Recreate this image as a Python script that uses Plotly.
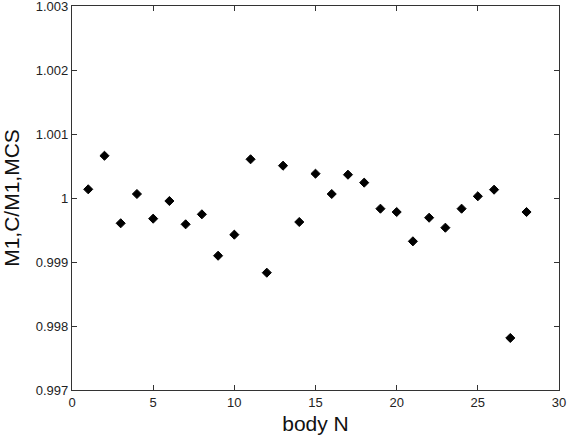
import plotly.graph_objects as go

body_n = list(range(1, 29))
ratio = [1.000136, 1.00066, 0.999605, 1.0000625, 0.999677, 0.999953, 0.999589,
         0.999745, 0.999098, 0.999427, 1.000605, 0.998833, 1.000505, 0.999625,
         1.00038, 1.0000625, 1.000364, 1.00024, 0.999833, 0.999781, 0.999323,
         0.999692, 0.999536, 0.999833, 1.000027, 1.00013, 0.997813, 0.999781]

x_ticks = [0, 5, 10, 15, 20, 25, 30]
y_ticks = [0.997, 0.998, 0.999, 1.0, 1.001, 1.002, 1.003]
y_tick_labels = ["0.997", "0.998", "0.999", "1", "1.001", "1.002", "1.003"]

FONT = "'Liberation Sans', Arial, sans-serif"

fig = go.Figure()
fig.add_trace(go.Scatter(
    x=body_n, y=ratio, mode="markers",
    marker=dict(symbol="diamond", size=7, color="black",
                line=dict(color="black", width=1)),
    showlegend=False,
))

axis_common = dict(
    showgrid=False, zeroline=False, showline=True, linecolor="#333333", linewidth=1.2,
    mirror="allticks", ticks="inside", ticklen=5, tickcolor="#333333", tickwidth=1,
    tickfont=dict(family=FONT, size=13, color="#222222"),
    automargin=False, ticklabeloverflow="allow",
)

fig.update_layout(
    width=568, height=435,
    margin=dict(l=72, r=9, t=6, b=45),
    plot_bgcolor="white", paper_bgcolor="white",
    font=dict(family=FONT),
    xaxis=dict(range=[0, 30], tickvals=x_ticks,
               title=dict(text="body N", font=dict(family=FONT, size=21, color="#111111"), standoff=14),
               **axis_common),
    yaxis=dict(range=[0.997, 1.003], tickvals=y_ticks, ticktext=y_tick_labels,
               title=dict(text="M1,C/M1,MCS", font=dict(family=FONT, size=21, color="#111111"), standoff=12),
               **axis_common),
)

fig.write_html("out.html")
